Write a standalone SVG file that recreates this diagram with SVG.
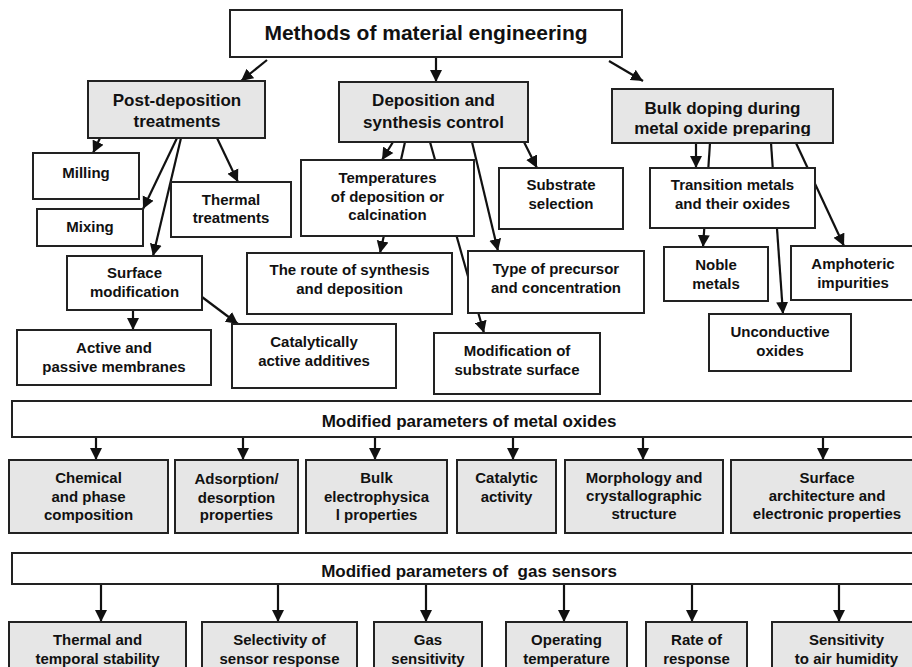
<svg xmlns="http://www.w3.org/2000/svg" width="912" height="667" viewBox="0 0 912 667">
<style>
.w{fill:#ffffff;stroke:#222;stroke-width:2}
.g{fill:#e6e6e6;stroke:#222;stroke-width:2}
.c line{stroke:#111;stroke-width:2.2;marker-end:url(#ah)}
text{font-family:"Liberation Sans",Arial,sans-serif;font-weight:bold;fill:#111;text-anchor:middle}
.s{font-size:15px}
.m{font-size:17px}
.l{font-size:21px}
</style>
<defs>
<marker id="ah" markerUnits="userSpaceOnUse" markerWidth="13" markerHeight="13" refX="12" refY="6.5" orient="auto"><path d="M0,0.5 L12,6.5 L0,12.5 z" fill="#111"/></marker>
<clipPath id="bulkclip"><rect x="600" y="80" width="250" height="56"/></clipPath>
</defs>
<rect width="912" height="667" fill="#fff"/>
<g id="connectors" class="c">
<line x1="267" y1="60" x2="241" y2="81"/>
<line x1="436" y1="58" x2="436" y2="82"/>
<line x1="609" y1="61" x2="643" y2="81"/>
<line x1="100" y1="138" x2="93" y2="153"/>
<line x1="177" y1="138" x2="143" y2="209"/>
<line x1="181" y1="138" x2="153" y2="256"/>
<line x1="217" y1="138" x2="238" y2="182"/>
<line x1="133" y1="310" x2="133" y2="330"/>
<line x1="202" y1="297" x2="238" y2="324"/>
<line x1="393" y1="142" x2="382" y2="160"/>
<line x1="405" y1="142" x2="380" y2="253"/>
<line x1="430" y1="142" x2="484" y2="333"/>
<line x1="472" y1="142" x2="498" y2="251"/>
<line x1="524" y1="142" x2="537" y2="168"/>
<line x1="696" y1="143" x2="696" y2="168"/>
<line x1="710" y1="143" x2="703" y2="247"/>
<line x1="771" y1="143" x2="783" y2="314"/>
<line x1="796" y1="143" x2="844" y2="246"/>
<line x1="96" y1="437" x2="96" y2="460"/>
<line x1="243" y1="437" x2="243" y2="460"/>
<line x1="375" y1="437" x2="375" y2="460"/>
<line x1="513" y1="437" x2="513" y2="460"/>
<line x1="643" y1="437" x2="643" y2="460"/>
<line x1="823" y1="437" x2="823" y2="460"/>
<line x1="101" y1="585" x2="101" y2="622"/>
<line x1="278" y1="585" x2="278" y2="622"/>
<line x1="426" y1="585" x2="426" y2="622"/>
<line x1="564" y1="585" x2="564" y2="622"/>
<line x1="692" y1="585" x2="692" y2="622"/>
<line x1="839" y1="585" x2="839" y2="622"/>
</g>
<g id="title"><rect class="w" x="230" y="10" width="392" height="47"/><text class="l" x="426" y="40">Methods of material engineering</text></g>
<g id="post"><rect class="g" x="88" y="81" width="177" height="57"/><text class="m" x="177" y="106">Post-deposition</text><text class="m" x="177" y="127">treatments</text></g>
<g id="deposition"><rect class="g" x="339" y="82" width="189" height="60"/><text class="m" x="433.5" y="106">Deposition and</text><text class="m" x="433.5" y="128">synthesis control</text></g>
<g id="bulk"><rect class="g" x="612" y="89" width="221" height="54"/><g clip-path="url(#bulkclip)"><text class="m" x="722.5" y="114">Bulk doping during</text><text class="m" x="722.5" y="134">metal oxide preparing</text></g></g>
<g id="milling"><rect class="w" x="33" y="153" width="106" height="46"/><text class="s" x="86" y="178">Milling</text></g>
<g id="mixing"><rect class="w" x="37" y="209" width="106" height="37"/><text class="s" x="90" y="232">Mixing</text></g>
<g id="thermal"><rect class="w" x="171" y="182" width="120" height="55"/><text class="s" x="231" y="205">Thermal</text><text class="s" x="231" y="223">treatments</text></g>
<g id="temperatures"><rect class="w" x="301" y="160" width="173" height="76"/><text class="s" x="387.5" y="183">Temperatures</text><text class="s" x="387.5" y="201.5">of deposition or</text><text class="s" x="387.5" y="220">calcination</text></g>
<g id="substrate"><rect class="w" x="499" y="168" width="124" height="61"/><text class="s" x="561" y="190">Substrate</text><text class="s" x="561" y="209">selection</text></g>
<g id="transition"><rect class="w" x="650" y="168" width="165" height="60"/><text class="s" x="732.5" y="190">Transition metals</text><text class="s" x="732.5" y="209">and their oxides</text></g>
<g id="surface"><rect class="w" x="67" y="256" width="135" height="54"/><text class="s" x="134.5" y="278">Surface</text><text class="s" x="134.5" y="297">modification</text></g>
<g id="membranes"><rect class="w" x="17" y="330" width="194" height="55"/><text class="s" x="114" y="353">Active and</text><text class="s" x="114" y="372">passive membranes</text></g>
<g id="catalytically"><rect class="w" x="232" y="324" width="164" height="64"/><text class="s" x="314" y="347">Catalytically</text><text class="s" x="314" y="366">active additives</text></g>
<g id="route"><rect class="w" x="247" y="253" width="205" height="61"/><text class="s" x="349.5" y="274.5">The route of synthesis</text><text class="s" x="349.5" y="294">and deposition</text></g>
<g id="precursor"><rect class="w" x="468" y="251" width="176" height="62"/><text class="s" x="556" y="273.5">Type of precursor</text><text class="s" x="556" y="292.5">and concentration</text></g>
<g id="modsubstrate"><rect class="w" x="434" y="333" width="166" height="61"/><text class="s" x="517" y="355.5">Modification of</text><text class="s" x="517" y="375">substrate surface</text></g>
<g id="noble"><rect class="w" x="664" y="247" width="104" height="54"/><text class="s" x="716" y="270">Noble</text><text class="s" x="716" y="289">metals</text></g>
<g id="amphoteric"><rect class="w" x="791" y="246" width="130" height="54"/><text class="s" x="853" y="268.5">Amphoteric</text><text class="s" x="853" y="287.5">impurities</text></g>
<g id="unconductive"><rect class="w" x="709" y="314" width="142" height="57"/><text class="s" x="780" y="337">Unconductive</text><text class="s" x="780" y="355.5">oxides</text></g>
<g id="oxidesbar"><rect class="w" x="12" y="401" width="910" height="36"/><text class="m" x="469" y="427">Modified parameters of metal oxides</text></g>
<g id="chemical"><rect class="g" x="9" y="460" width="159" height="73"/><text class="s" x="88.5" y="483">Chemical</text><text class="s" x="88.5" y="501.5">and phase</text><text class="s" x="88.5" y="520">composition</text></g>
<g id="adsorption"><rect class="g" x="175" y="460" width="123" height="73"/><text class="s" x="236.5" y="484">Adsorption/</text><text class="s" x="236.5" y="502.5">desorption</text><text class="s" x="236.5" y="520">properties</text></g>
<g id="bulkelectro"><rect class="g" x="306" y="460" width="141" height="73"/><text class="s" x="376.5" y="483">Bulk</text><text class="s" x="376.5" y="501.5">electrophysica</text><text class="s" x="376.5" y="520">l properties</text></g>
<g id="catalytic"><rect class="g" x="457" y="460" width="99" height="73"/><text class="s" x="506.5" y="483">Catalytic</text><text class="s" x="506.5" y="501.5">activity</text></g>
<g id="morphology"><rect class="g" x="565" y="460" width="158" height="73"/><text class="s" x="644" y="483">Morphology and</text><text class="s" x="644" y="501">crystallographic</text><text class="s" x="644" y="519">structure</text></g>
<g id="surfacearch"><rect class="g" x="731" y="460" width="192" height="73"/><text class="s" x="827" y="483">Surface</text><text class="s" x="827" y="501">architecture and</text><text class="s" x="827" y="519">electronic properties</text></g>
<g id="sensorsbar"><rect class="w" x="12" y="553" width="910" height="31"/><text class="m" x="469" y="577" style="white-space:pre">Modified parameters of  gas sensors</text></g>
<g id="stability"><rect class="g" x="9" y="622" width="177" height="60"/><text class="s" x="97.5" y="645">Thermal and</text><text class="s" x="97.5" y="663.5">temporal stability</text></g>
<g id="selectivity"><rect class="g" x="202" y="622" width="155" height="60"/><text class="s" x="279.5" y="645">Selectivity of</text><text class="s" x="279.5" y="663.5">sensor response</text></g>
<g id="gassens"><rect class="g" x="374" y="622" width="108" height="60"/><text class="s" x="428" y="645">Gas</text><text class="s" x="428" y="663.5">sensitivity</text></g>
<g id="operating"><rect class="g" x="506" y="622" width="121" height="60"/><text class="s" x="566.5" y="645">Operating</text><text class="s" x="566.5" y="663.5">temperature</text></g>
<g id="rate"><rect class="g" x="646" y="622" width="101" height="60"/><text class="s" x="696.5" y="645">Rate of</text><text class="s" x="696.5" y="663.5">response</text></g>
<g id="humidity"><rect class="g" x="772" y="622" width="150" height="60"/><text class="s" x="846.5" y="645">Sensitivity</text><text class="s" x="846.5" y="663.5">to air humidity</text></g>
</svg>
